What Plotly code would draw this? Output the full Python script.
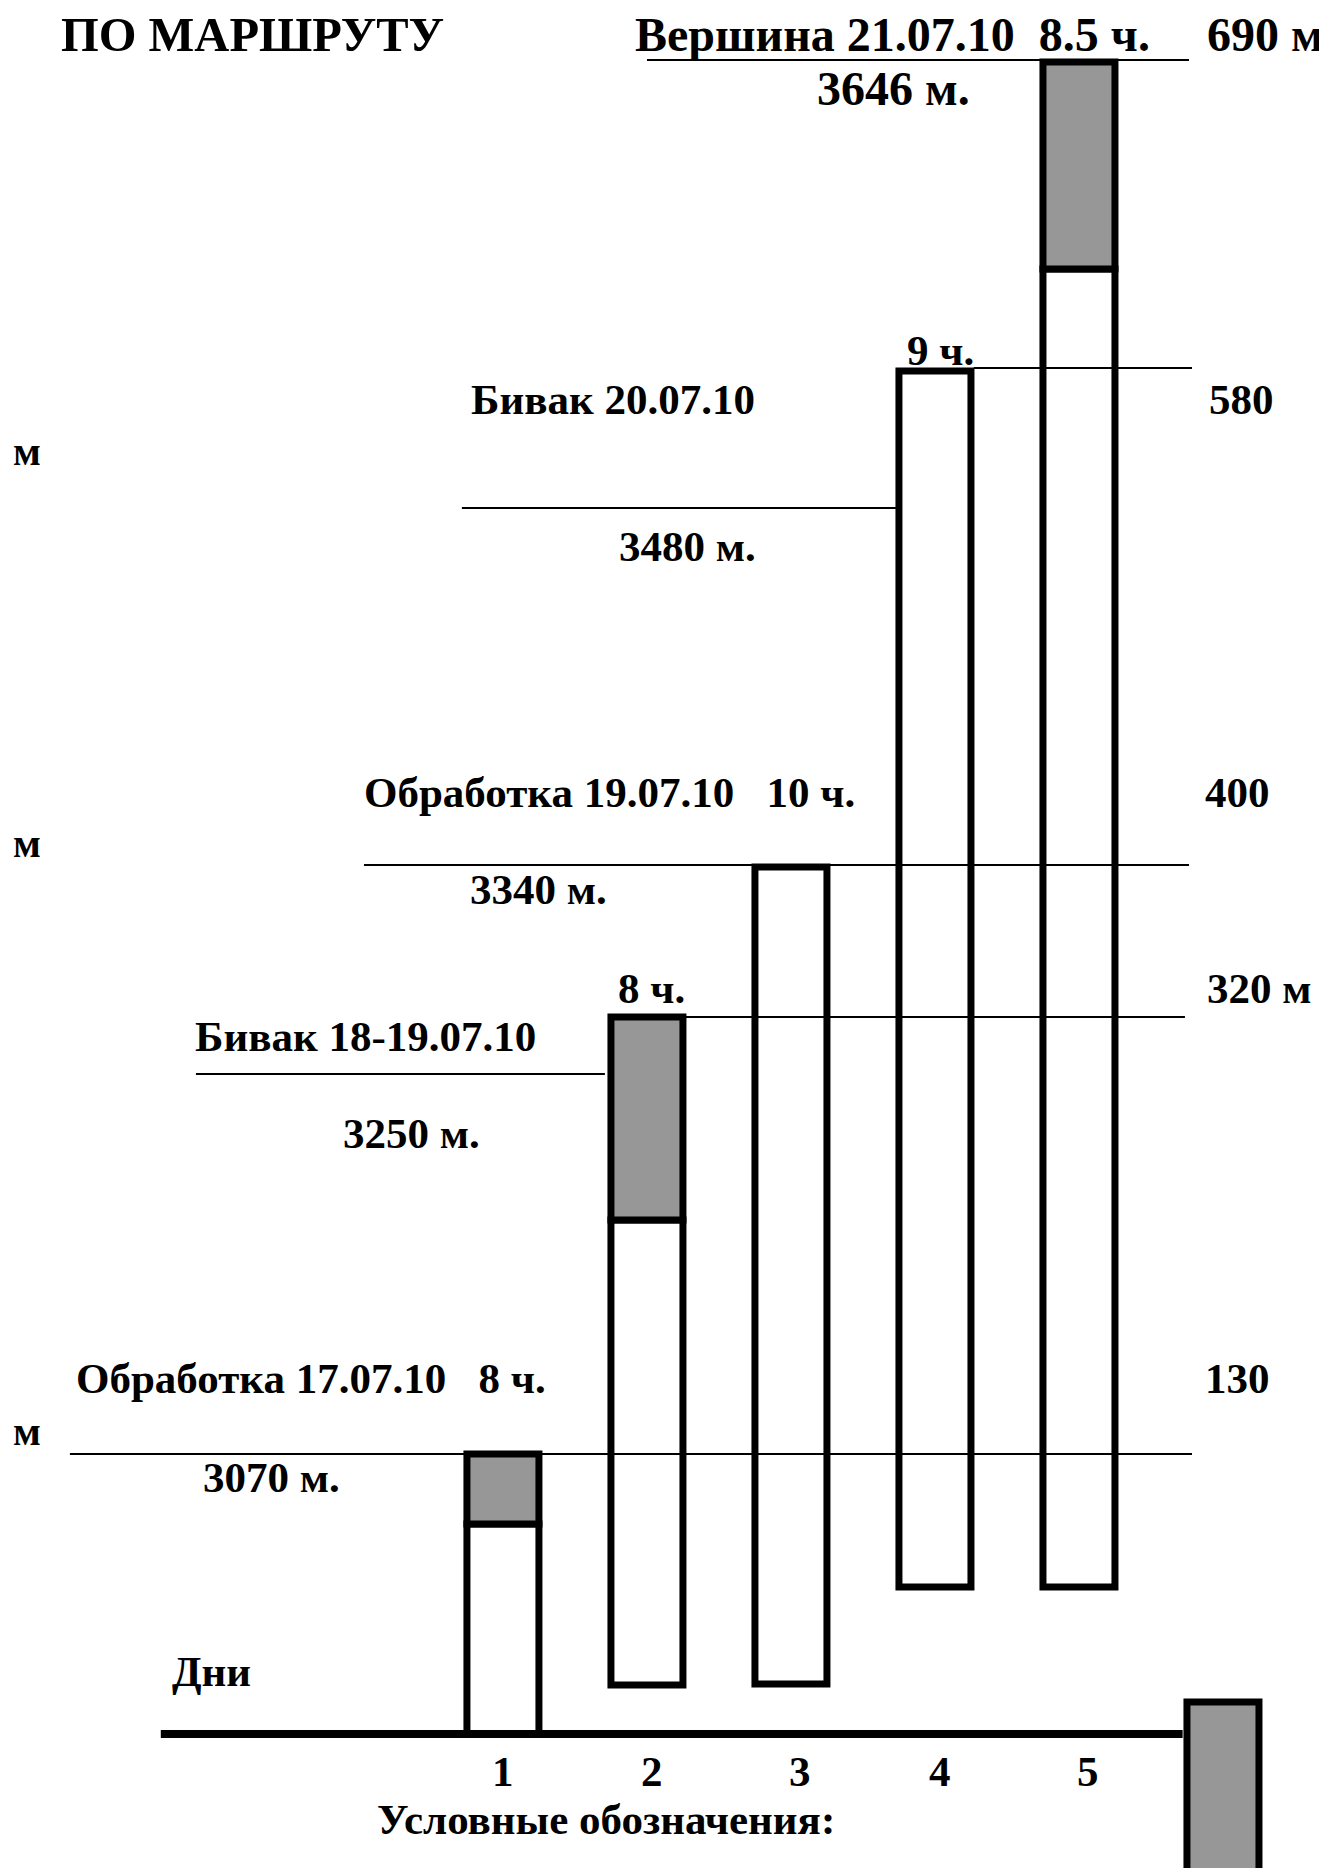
import plotly.graph_objects as go

# ---- data (schematic height units above the "Дни" baseline; x = day number) ----
days = [1, 2, 3, 4, 5]
day_labels = ["1", "2", "3", "4", "5"]
day_label_x = [1.0, 2.035, 3.066, 4.035, 5.066]
bar_bottom = [0, 49, 50, 147, 147]
bar_top = [280, 717, 867, 1363, 1672]
shade_from = [210, 514, None, None, 1465]   # grey = bivouac / summit part of the day

legend_day = 6
legend_bottom = -170
legend_top = 32

# horizontal reference levels and their extents (in day units)
level_h = [1674, 1366, 1226, 869, 717, 660, 280]
level_x0 = [2.0, 4.27, 0.715, 0.035, 2.27, -1.132, -2.007]
level_x1 = [5.764, 5.785, 3.729, 5.764, 5.736, 1.708, 5.785]

base_x = [-1.376, 5.72]

# text labels: (text, x, y, size)
NB = "\u00a0"
labels = [
    ("ПО МАРШРУТУ", -2.069, 1700, 48.5),
    ("Вершина 21.07.10" + NB + NB + "8.5 ч.", 1.917, 1700, 48),
    ("690 м", 5.89, 1700, 48),
    ("3646 м.", 3.181, 1646, 48),
    ("9 ч.", 3.806, 1384, 43),
    ("Бивак 20.07.10", 0.778, 1335, 43),
    ("580", 5.905, 1335, 43),
    ("м", -2.403, 1283, 41),
    ("3480 м.", 1.806, 1188, 43),
    ("Обработка 19.07.10" + NB + NB + NB + "10 ч.", 0.035, 942, 43),
    ("400", 5.872, 942, 43),
    ("м", -2.403, 891, 41),
    ("3340 м.", 0.771, 845, 43),
    ("8 ч.", 1.799, 746, 43),
    ("320 м", 5.89, 746, 43),
    ("Бивак 18-19.07.10", -1.139, 698, 43),
    ("3250 м.", -0.111, 601, 43),
    ("Обработка 17.07.10" + NB + NB + NB + "8 ч.", -1.965, 356, 43),
    ("130", 5.872, 356, 43),
    ("м", -2.403, 303, 41),
    ("3070 м.", -1.083, 257, 43),
    ("Дни", -1.30, 63, 43),
    ("Условные обозначения:", 0.125, -85, 43),
]
day_label_y = -37

FONT = "Liberation Serif, Times New Roman, serif"
GREY = "#979797"
BW = 0.5
LW = 7

fig = go.Figure()

# white (lower) parts of the day bars
white_top = [s if s is not None else t for s, t in zip(shade_from, bar_top)]
fig.add_trace(go.Bar(
    x=days, base=bar_bottom,
    y=[wt - b for wt, b in zip(white_top, bar_bottom)],
    width=BW, marker=dict(color="white", line=dict(color="black", width=LW)),
    hoverinfo="skip"))

# grey (upper) parts
gx, gb, gy = [], [], []
for d, s, t in zip(days, shade_from, bar_top):
    if s is not None:
        gx.append(d); gb.append(s); gy.append(t - s)
fig.add_trace(go.Bar(
    x=gx, base=gb, y=gy, width=BW,
    marker=dict(color=GREY, line=dict(color="black", width=LW)),
    hoverinfo="skip"))

# legend swatch
fig.add_trace(go.Bar(
    x=[legend_day], base=[legend_bottom], y=[legend_top - legend_bottom], width=BW,
    marker=dict(color=GREY, line=dict(color="black", width=LW)),
    hoverinfo="skip"))

# thin level lines
for h, a, b in zip(level_h, level_x0, level_x1):
    fig.add_trace(go.Scatter(x=[a, b], y=[h, h], mode="lines",
                             line=dict(color="black", width=2),
                             hoverinfo="skip", cliponaxis=False))

# baseline
fig.add_trace(go.Scatter(x=base_x, y=[0, 0], mode="lines",
                         line=dict(color="black", width=8),
                         hoverinfo="skip", cliponaxis=False))

annotations = []
for text, x, y, size in labels:
    annotations.append(dict(text="<b>" + text + "</b>", x=x, y=y, xref="x", yref="y",
                            xanchor="left", yanchor="middle", showarrow=False,
                            xshift=-1, borderpad=0,
                            font=dict(family=FONT, size=size, color="black")))
for x, t in zip(day_label_x, day_labels):
    annotations.append(dict(text="<b>" + t + "</b>", x=x, y=day_label_y, xref="x", yref="y",
                            xanchor="center", yanchor="middle", showarrow=False,
                            font=dict(family=FONT, size=43, color="black")))

fig.update_layout(
    width=1327, height=1868,
    margin=dict(l=0, r=0, t=0, b=0),
    paper_bgcolor="white", plot_bgcolor="white",
    barmode="overlay", showlegend=False,
    xaxis=dict(range=[-2.437, 6.778], visible=False, fixedrange=True),
    yaxis=dict(range=[-142, 1726], visible=False, fixedrange=True),
    annotations=annotations,
)

fig.write_html("out.html")
